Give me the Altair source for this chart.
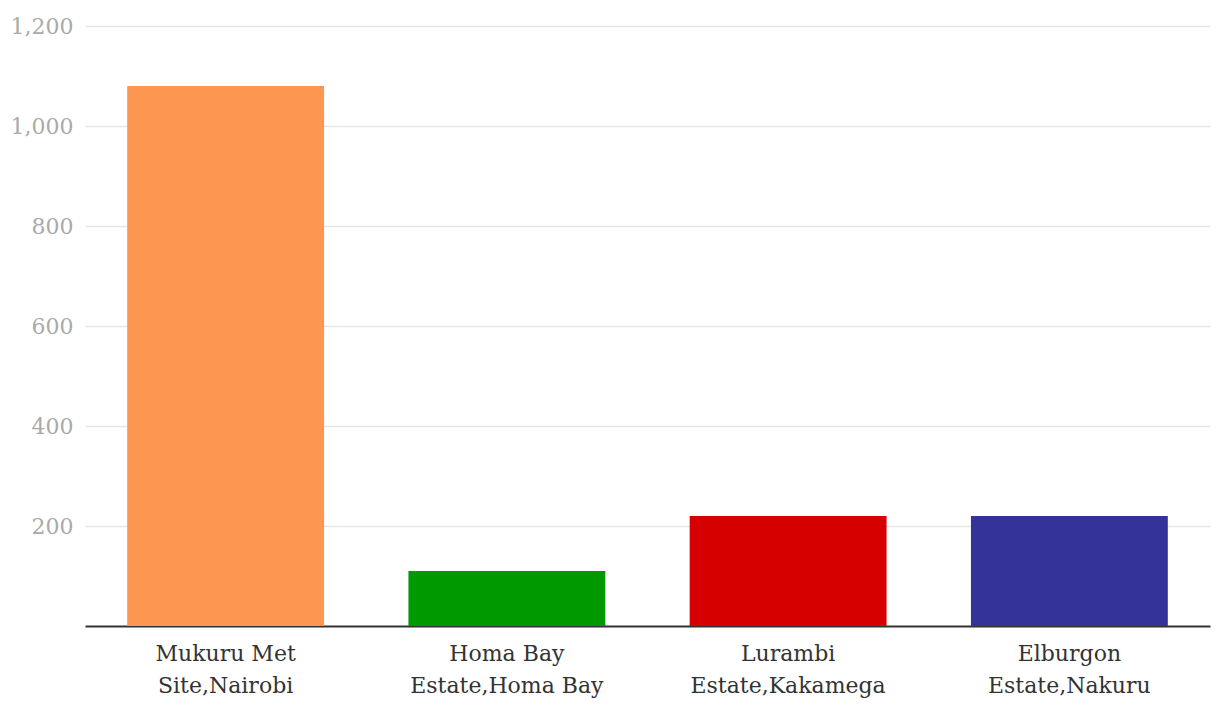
import altair as alt
import pandas as pd

categories = ["Mukuru Met|Site,Nairobi", "Homa Bay|Estate,Homa Bay",
              "Lurambi|Estate,Kakamega", "Elburgon|Estate,Nakuru"]
values = [1080, 110, 220, 220]
colors = ["#FD9650", "#009900", "#D70000", "#343399"]
y_ticks = [200, 400, 600, 800, 1000, 1200]

df = pd.DataFrame({"site": categories, "value": values})

chart = alt.Chart(df).mark_bar().encode(
    x=alt.X("site:N", sort=categories, title=None,
            scale=alt.Scale(paddingInner=0.3, paddingOuter=0.15),
            axis=alt.Axis(labelAngle=0, labelExpr="split(datum.label, '|')",
                          labelFont="DejaVu Serif", labelFontSize=22,
                          labelColor="#333333", labelLineHeight=32,
                          labelPadding=17, labelLimit=0, ticks=False,
                          domainColor="#333333", domainWidth=2, grid=False)),
    y=alt.Y("value:Q", title=None,
            scale=alt.Scale(domain=[0, 1200]),
            axis=alt.Axis(values=y_ticks, labelFont="DejaVu Serif", labelFontSize=22,
                          labelColor="#aaaaaa", labelPadding=12, ticks=False,
                          domain=False, gridColor="#e6e6e6", gridWidth=1.5,
                          format=",d")),
    color=alt.Color("site:N", sort=categories,
                    scale=alt.Scale(domain=categories, range=colors), legend=None),
).properties(
    width=1125, height=600,
    autosize=alt.AutoSizeParams(type="none"),
    padding={"left": 77, "top": 18, "right": 2, "bottom": 82},
).configure_view(stroke=None)

chart.save("out.html", embed_options={"renderer": "svg", "actions": False})
